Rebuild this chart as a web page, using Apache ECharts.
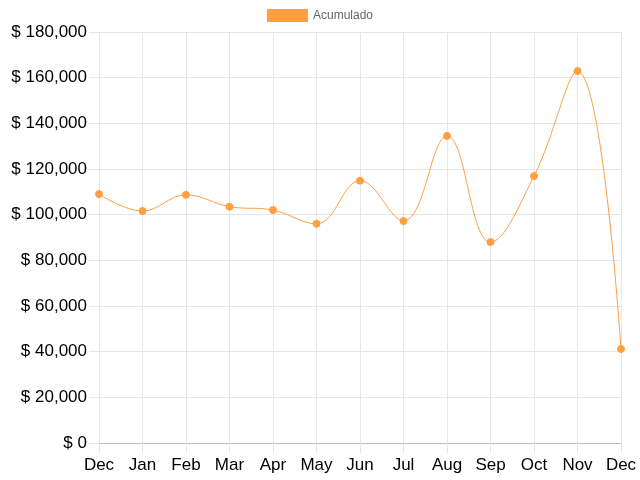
<!DOCTYPE html>
<html><head><meta charset="utf-8">
<script src="https://cdn.jsdelivr.net/npm/echarts@6/dist/echarts.min.js"></script>
<style>html,body{margin:0;padding:0;background:#fff}#c{width:640px;height:480px}</style>
</head><body><div id="c"></div>
<script>
const categories = ['Dec','Jan','Feb','Mar','Apr','May','Jun','Jul','Aug','Sep','Oct','Nov','Dec'];
const seriesName = 'Acumulado';
const acumulado = [109000, 101600, 108700, 103500, 102000, 96000, 114900, 97200, 134500, 88000, 116900, 162900, 41200];
const yMin = 0, yMax = 180000, yStep = 20000;

const fontFam = '"Liberation Sans", Arial, Helvetica, sans-serif';
const chart = echarts.init(document.getElementById('c'));
chart.setOption({
  animation: false,
  legend: {
    top: 9, left: 'center', padding: 0,
    itemWidth: 41, itemHeight: 13, itemGap: 10,
    icon: 'rect',
    textStyle: { color: '#666', fontSize: 12, fontFamily: fontFam },
    data: [seriesName]
  },
  grid: { left: 99, right: 19, top: 32, bottom: 37, containLabel: false },
  xAxis: {
    type: 'category', data: categories, boundaryGap: false,
    axisLine: { show: true, lineStyle: { color: '#bfbfbf', width: 1 } },
    axisTick: { show: true, length: 10, alignWithLabel: true, lineStyle: { color: '#e6e6e6' } },
    axisLabel: { color: '#000', fontSize: 17, fontFamily: fontFam, margin: 14, interval: 0 },
    splitLine: { show: true, lineStyle: { color: '#e6e6e6', width: 1 } }
  },
  yAxis: {
    type: 'value', min: yMin, max: yMax, interval: yStep,
    axisLine: { show: true, lineStyle: { color: '#e6e6e6' } },
    axisTick: { show: true, length: 10, lineStyle: { color: '#e6e6e6' } },
    axisLabel: { color: '#000', fontSize: 17, fontFamily: fontFam, margin: 12,
      formatter: v => '$ ' + v.toLocaleString('en-US') },
    splitLine: { show: true, lineStyle: { color: '#e6e6e6', width: 1 } }
  },
  series: [{
    name: seriesName, type: 'line', data: acumulado, smooth: 0.4,
    symbol: 'circle', symbolSize: 7,
    lineStyle: { color: '#ff9f40', width: 1 },
    itemStyle: { color: '#ff9f40', borderColor: '#ff9f40' }
  }]
});
</script></body></html>
